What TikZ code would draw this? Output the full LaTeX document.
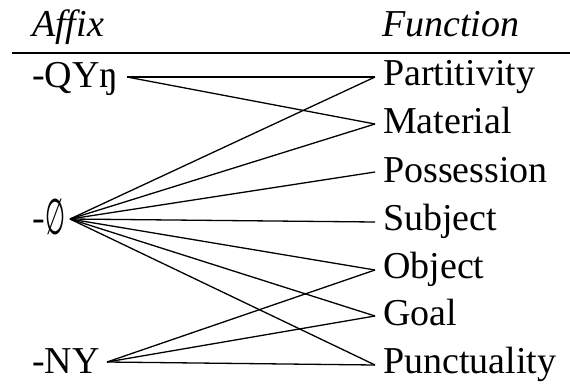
\documentclass[tikz,border=0pt]{standalone}
\usepackage{fontspec}
\setmainfont{Liberation Serif}
\newfontfamily\symfont{DejaVu Sans}
\begin{document}
\begin{tikzpicture}[x=1pt,y=-1pt,
  lbl/.style={anchor=base west,inner sep=0pt,font=\fontsize{38}{40}\selectfont},
  hdr/.style={lbl,font=\fontsize{38}{40}\selectfont\itshape},
  link/.style={line width=1.3pt,line join=round}]
\useasboundingbox (0,0) rectangle (570,383);
% headers
\node[hdr] (haffix) at (32,36) {Affix};
\node[hdr] (hfunc) at (382,36) {Function};
\coordinate (ruleL) at (12,53);
\coordinate (ruleR) at (570,53);
\draw[line width=1.4pt] (ruleL) -- (ruleR);
% affixes
\node[lbl] (qyn) at (32,87) {-QYŋ};
\node[lbl] (zero) at (32,230) {-\hspace{1pt}\raisebox{-4pt}{\resizebox*{20pt}{36pt}{\symfont ∅}}};
\node[lbl] (ny) at (32,373) {-NY};
% functions
\node[lbl] (part) at (383,85) {Partitivity};
\node[lbl] (mat) at (383,133) {Material};
\node[lbl] (poss) at (383,182) {Possession};
\node[lbl] (subj) at (383,230) {Subject};
\node[lbl] (obj) at (383,278) {Object};
\node[lbl] (goal) at (383,325) {Goal};
\node[lbl] (punc) at (383,373) {Punctuality};
% connector end points
\coordinate (qynR) at (127,77);
\coordinate (zeroR) at (70,219);
\coordinate (nyR) at (107,362);
\coordinate (partL) at (375,77);
\coordinate (matL) at (375,124);
\coordinate (possL) at (375,172);
\coordinate (subjL) at (375,222);
\coordinate (objL) at (375,270);
\coordinate (goalL) at (375,316);
\coordinate (puncL) at (375,365);
% links
\draw[link] (qynR) -- (partL);
\draw[link] (qynR) -- (matL);
\foreach \t in {partL,matL,possL,subjL,objL,goalL,puncL}
  \draw[link] (zeroR) -- (\t);
\foreach \t in {objL,goalL,puncL}
  \draw[link] (nyR) -- (\t);
\end{tikzpicture}
\end{document}
